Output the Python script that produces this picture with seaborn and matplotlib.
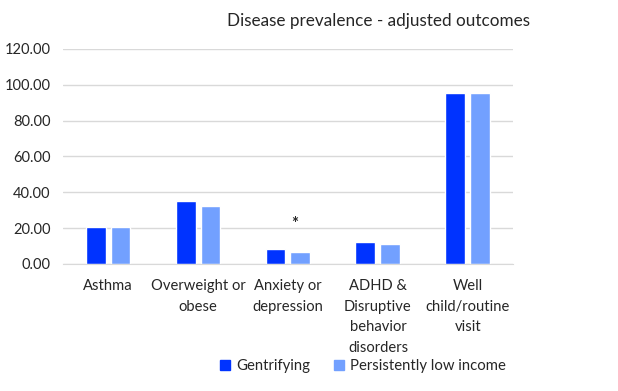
import matplotlib
matplotlib.use('Agg')
import matplotlib.pyplot as plt
import seaborn as sns
import pandas as pd

# Data
categories = ['Asthma', 'Overweight or\nobese', 'Anxiety or\ndepression',
              'ADHD &\nDisruptive\nbehavior\ndisorders', 'Well\nchild/routine\nvisit']
gentrifying = [20.8, 35.3, 8.5, 12.4, 95.6]
persistently_low = [20.8, 32.5, 6.9, 11.3, 95.6]
groups = ['Gentrifying', 'Persistently low income']
y_ticks = [0, 20, 40, 60, 80, 100, 120]

df = pd.DataFrame({
    'category': categories * 2,
    'value': gentrifying + persistently_low,
    'group': [groups[0]] * len(categories) + [groups[1]] * len(categories),
})

sns.set_style('white')
plt.rcParams['font.family'] = ['Lato', 'DejaVu Sans']

fig = plt.figure(figsize=(6.18, 3.91), dpi=100)
ax = fig.add_axes([0.102, 0.325, 0.728, 0.55])

palette = {groups[0]: '#0033FF', groups[1]: '#72A0FF'}
sns.barplot(data=df, x='category', y='value', hue='group', palette=palette,
            width=0.555, gap=0.2, ax=ax, legend=False, saturation=1)

ax.set_ylim(0, 120)
ax.set_yticks(y_ticks)
ax.set_yticklabels([f'{t:.2f}' for t in y_ticks], fontsize=10.5)
ax.yaxis.grid(True, color='#D9D9D9', linewidth=1)
ax.set_axisbelow(True)
for s in ['top', 'right', 'left']:
    ax.spines[s].set_visible(False)
ax.spines['bottom'].set_color('#D9D9D9')
ax.tick_params(axis='both', length=0)
ax.tick_params(axis='y', pad=9)
ax.tick_params(axis='x', pad=11)
ax.set_xticks(range(len(categories)))
ax.set_xticklabels(categories, fontsize=10.6, linespacing=1.6, va='top')
ax.set_xlabel('')
ax.set_ylabel('')

# significance marker
ax.text(2.08, 22.0, '*', ha='center', va='center', fontsize=12, fontweight='bold')

fig.text(0.612, 0.947, 'Disease prevalence - adjusted outcomes',
         ha='center', va='center', fontsize=12.3)

handles = [plt.Rectangle((0, 0), 1, 1, color=palette[g]) for g in groups]
fig.legend(handles, groups, loc='center', bbox_to_anchor=(0.587, 0.064),
           ncol=2, frameon=False, fontsize=10.7, handlelength=0.7,
           handleheight=0.7, handletextpad=0.4, columnspacing=1.6)

fig.savefig('out.png', dpi=100)
